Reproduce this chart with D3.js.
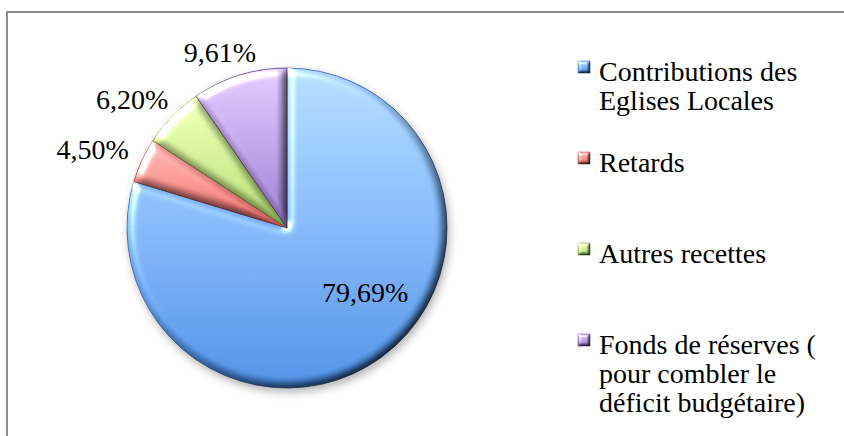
<!DOCTYPE html>
<html>
<head>
<meta charset="utf-8">
<script src="https://cdn.jsdelivr.net/npm/d3@7"></script>
<style>
  html, body { margin: 0; padding: 0; background: #fff; }
  svg { display: block; }
  text { font-family: "Liberation Serif", "DejaVu Serif", serif; fill: #000; }
</style>
</head>
<body>
<div id="chart"></div>
<script>
// data
const categories = [
  "Contributions des Eglises Locales",
  "Retards",
  "Autres recettes",
  "Fonds de réserves ( pour combler le déficit budgétaire)"
];
const legendLines = [
  ["Contributions des", "Eglises Locales"],
  ["Retards"],
  ["Autres recettes"],
  ["Fonds de réserves (", "pour combler le", "déficit budgétaire)"]
];
const values = [79.69, 4.50, 6.20, 9.61];
const topColors = ["#a8d0fb", "#f8aca8", "#e2f5ab", "#d2bff2"];
const bottomColors = ["#4484d8", "#dc625e", "#a6ce66", "#8e6ec0"];
const edgeColors = ["#2f5f9e", "#9c3a36", "#6f8c3a", "#503a78"];

const width = 844, height = 436;
const cx = 287, cy = 228, radius = 160;

const svg = d3.select("#chart").append("svg")
  .attr("width", width)
  .attr("height", height);

const defs = svg.append("defs");

// gradients for slices
categories.forEach(function (c, i) {
  let g = defs.append("linearGradient")
    .attr("id", "grad" + i)
    .attr("x1", 0).attr("y1", 0).attr("x2", 0).attr("y2", 1);
  g.append("stop").attr("offset", "0%").attr("stop-color", topColors[i]);
  g.append("stop").attr("offset", "100%").attr("stop-color", bottomColors[i]);
});

// soft bevel like the office chart style
function bevel(id, blur, scale) {
  let f = defs.append("filter")
    .attr("id", id)
    .attr("x", "-10%").attr("y", "-10%")
    .attr("width", "120%").attr("height", "120%")
    .attr("color-interpolation-filters", "sRGB");
  f.append("feGaussianBlur").attr("in", "SourceAlpha").attr("stdDeviation", blur).attr("result", "blur");
  f.append("feDiffuseLighting")
    .attr("in", "blur").attr("surfaceScale", scale).attr("diffuseConstant", 1.3)
    .attr("lighting-color", "#fff").attr("result", "diff")
    .append("feDistantLight").attr("azimuth", 225).attr("elevation", 50);
  f.append("feComposite")
    .attr("in", "SourceGraphic").attr("in2", "diff")
    .attr("operator", "arithmetic").attr("k1", 1).attr("k2", 0).attr("k3", 0).attr("k4", 0)
    .attr("result", "shaded");
  f.append("feSpecularLighting")
    .attr("in", "blur").attr("surfaceScale", scale)
    .attr("specularConstant", 0.8).attr("specularExponent", 25)
    .attr("lighting-color", "#fff").attr("result", "spec")
    .append("feDistantLight").attr("azimuth", 225).attr("elevation", 40);
  f.append("feComposite")
    .attr("in", "spec").attr("in2", "SourceAlpha").attr("operator", "in").attr("result", "specIn");
  f.append("feComposite")
    .attr("in", "shaded").attr("in2", "specIn")
    .attr("operator", "arithmetic").attr("k1", 0).attr("k2", 1).attr("k3", 1).attr("k4", 0);
}
bevel("bevel", 4, 4);
bevel("bevelSmall", 1.5, 2);

let shadow = defs.append("filter")
  .attr("id", "shadow")
  .attr("x", "-20%").attr("y", "-20%")
  .attr("width", "140%").attr("height", "140%");
shadow.append("feDropShadow")
  .attr("dx", 2).attr("dy", 4).attr("stdDeviation", 4)
  .attr("flood-color", "#000").attr("flood-opacity", 0.3);

// chart area border (runs off the right and bottom of the picture)
svg.append("rect")
  .attr("x", 7).attr("y", 12)
  .attr("width", 900).attr("height", 500)
  .attr("fill", "none")
  .attr("stroke", "#8a8a8a")
  .attr("stroke-width", 2);

let pie = d3.pie().sort(null).value((d) => d);
let arcs = pie(values);

let arc = d3.arc().innerRadius(0).outerRadius(radius);

let pieG = svg.append("g")
  .attr("transform", "translate(" + cx + "," + cy + ")")
  .attr("filter", "url(#shadow)");

pieG.selectAll("path")
  .data(arcs)
  .enter()
  .append("path")
  .attr("d", arc)
  .attr("fill", (d, i) => "url(#grad" + i + ")")
  .attr("stroke", (d, i) => edgeColors[i])
  .attr("stroke-width", 0.8)
  .attr("stroke-linejoin", "round")
  .attr("filter", "url(#bevel)");

// data labels
let fmt = (v) => d3.format(".2f")(v).replace(".", ",") + "%";
let labelG = svg.append("g")
  .attr("transform", "translate(" + cx + "," + cy + ")");

labelG.selectAll("text")
  .data(arcs)
  .enter()
  .append("text")
  .attr("font-size", 28)
  .attr("text-anchor", "middle")
  .attr("dy", "0.3em")
  .attr("transform", function (d) {
    let a = (d.startAngle + d.endAngle) / 2;
    let s = Math.sin(a), c = -Math.cos(a);
    let x, y;
    if (d.endAngle - d.startAngle > Math.PI) {
      // big slice: label inside
      x = s * radius * 0.62 + 19;
      y = c * radius * 0.62 - 14;
    } else {
      // small slices: label outside, pushed out by half its box
      x = s * 172 + s * 37 - 5;
      y = c * 172 + c * 11;
    }
    return "translate(" + x + "," + y + ")";
  })
  .text((d) => fmt(d.data));

// legend
let legend = svg.append("g").attr("id", "legend");
let entries = legend.selectAll("g")
  .data(legendLines)
  .enter()
  .append("g")
  .attr("transform", (d, i) => "translate(578," + (81 + i * 91) + ")");

entries.append("rect")
  .attr("x", 0)
  .attr("y", -20)
  .attr("width", 12)
  .attr("height", 12)
  .attr("fill", (d, i) => "url(#grad" + i + ")")
  .attr("stroke", (d, i) => edgeColors[i])
  .attr("stroke-width", 0.5)
  .attr("filter", "url(#bevelSmall)");

entries.append("text")
  .attr("font-size", 28)
  .attr("x", 21)
  .selectAll("tspan")
  .data((d) => d)
  .enter()
  .append("tspan")
  .attr("x", 21)
  .attr("y", (d, i) => i * 29)
  .text((d) => d);
</script>
</body>
</html>
